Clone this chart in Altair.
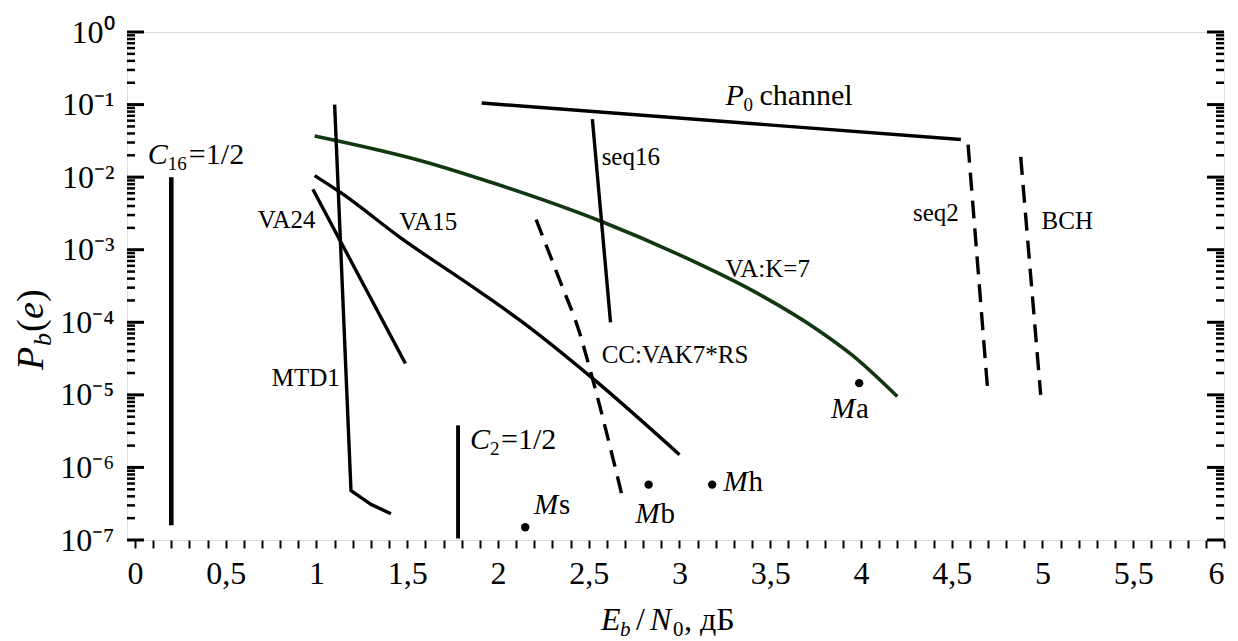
import altair as alt
import pandas as pd

W, H = 1097, 508
X_DOMAIN = [-0.044, 6.0]
Y_DOMAIN = [1e-7, 1.0]
FONT = "Liberation Serif"

# ---------------- data ----------------
mtd1_x = [1.10, 1.19, 1.30, 1.41]
mtd1_y = [1.0e-1, 4.8e-7, 3.1e-7, 2.3e-7]

va24_x = [0.98, 1.49]
va24_y = [6.8e-3, 2.7e-5]

va15_x = [0.99, 1.13, 1.46, 1.90, 2.12, 2.52, 3.00]
va15_y = [1.05e-2, 6.2e-3, 1.48e-3, 2.63e-4, 1.07e-4, 1.7e-5, 1.5e-6]

p0_x = [1.91, 4.55]
p0_y = [1.05e-1, 3.3e-2]

seq16_x = [2.52, 2.62]
seq16_y = [6.3e-2, 1.0e-4]

vak7_x = [0.99, 1.57, 2.00, 2.57, 3.00, 3.40, 3.76, 3.95, 4.20]
vak7_y = [3.7e-2, 1.7e-2, 7.9e-3, 2.45e-3, 8.5e-4, 2.75e-4, 7.9e-5, 3.55e-5, 9.5e-6]

cc_x = [2.21, 2.34, 2.45, 2.52, 2.69]
cc_y = [2.6e-3, 3.8e-4, 7.1e-5, 1.7e-5, 3.5e-7]

seq2_x = [4.59, 4.70]
seq2_y = [2.8e-2, 1.0e-5]

bch_x = [4.88, 4.99]
bch_y = [1.9e-2, 1.0e-5]

c16_x = [0.20, 0.20]
c16_y = [1.0e-2, 1.6e-7]

c2_x = [1.78, 1.78]
c2_y = [3.8e-6, 1.05e-7]

pt_name = ["Ms", "Mb", "Mh", "Ma"]
pt_x = [2.15, 2.83, 3.18, 3.99]
pt_y = [1.5e-7, 5.8e-7, 5.8e-7, 1.45e-5]

# curve labels
lbl_text = ["VA24", "VA15", "MTD1", "seq16", "seq2", "BCH", "VA:K=7", "CC:VAK7*RS"]
lbl_x = [0.676, 1.456, 0.753, 2.571, 4.286, 4.995, 3.253, 2.571]
lbl_y = [2.6e-3, 2.4e-3, 1.7e-5, 1.9e-2, 3.2e-3, 2.5e-3, 5.5e-4, 3.5e-5]

# point labels (italic M + suffix)
m_suffix = ["s", "b", "h", "a"]
m_lx = [2.198, 2.758, 3.242, 3.835]
m_ly = [3.05e-7, 2.3e-7, 6.3e-7, 6.4e-6]

# composite labels anchors
c16_lab = (0.071, 2.0e-2)
c2_lab = (1.846, 2.35e-6)
p0_lab = (3.253, 1.3e-1)

# axis ticks
y_major = [1e-7, 1e-6, 1e-5, 1e-4, 1e-3, 1e-2, 1e-1, 1e0]
y_minor = [m * 10.0 ** e for e in range(-7, 0) for m in range(2, 10)]
x_ticks = [round(i * 0.1, 1) for i in range(61)]

SUP = "['⁰','⁻¹','⁻²','⁻³','⁻⁴','⁻⁵','⁻⁶','⁻⁷']"

x_axis = alt.Axis(values=x_ticks, tickSize=8, tickWidth=2, tickColor="black",
                  labelExpr="(abs(datum.value*2 - round(datum.value*2)) < 1e-6) ? replace(format(datum.value, '~g'), '.', ',') : ''",
                  labelFontSize=32, labelPadding=10, labelColor="black", labelFont=FONT,
                  domain=False, grid=False, labelOverlap=False, title=None)
y_axis = alt.Axis(values=y_major, ticks=False, tickSize=0,
                  labelExpr="'10' + " + SUP + "[round(-log(datum.value)/LN10)]",
                  labelFontSize=32, labelPadding=13, labelColor="black", labelFont=FONT,
                  domain=False, grid=False, labelOverlap=False, title=None)

xsc = alt.Scale(domain=X_DOMAIN, nice=False, zero=False)
ysc = alt.Scale(type="log", domain=Y_DOMAIN, nice=False)


def X(f="x"):
    return alt.X(f"{f}:Q", scale=xsc, axis=x_axis)


def Y(f="y"):
    return alt.Y(f"{f}:Q", scale=ysc, axis=y_axis)


def df_line(xs, ys):
    return pd.DataFrame({"x": xs, "y": ys, "o": list(range(len(xs)))})


def line(xs, ys, color="black", width=3.4, dash=None, smooth=False):
    kw = dict(color=color, strokeWidth=width, strokeCap="butt", strokeJoin="round")
    if dash:
        kw["strokeDash"] = dash
    if smooth:
        kw["interpolate"] = "monotone"
    return alt.Chart(df_line(xs, ys)).mark_line(**kw).encode(x=X(), y=Y(), order="o:Q")


def text_at(x, y, txt, size, dx=0, dy=0, italic=False):
    return alt.Chart(pd.DataFrame({"x": [x], "y": [y], "t": [txt]})).mark_text(
        align="left", baseline="middle", dx=dx, dy=dy, fontSize=size, font=FONT,
        fontStyle="italic" if italic else "normal", color="black"
    ).encode(x=X(), y=Y(), text="t:N")


def text_px(px, py, txt, size, dx=0, dy=0, italic=False, angle=0):
    return alt.Chart(pd.DataFrame({"t": [txt]})).mark_text(
        align="left", baseline="alphabetic", dx=dx, dy=dy, fontSize=size, font=FONT,
        fontStyle="italic" if italic else "normal", color="black", angle=angle
    ).encode(x=alt.value(px), y=alt.value(py), text="t:N")


layers = []

# inward y ticks (left and right)
maj = pd.DataFrame({"v": y_major})
mnr = pd.DataFrame({"v": y_minor})
layers.append(alt.Chart(maj).mark_rule(color="black", strokeWidth=3).encode(
    y=Y("v"), x=alt.value(0), x2=alt.value(17)))
layers.append(alt.Chart(mnr).mark_rule(color="black", strokeWidth=2.5).encode(
    y=Y("v"), x=alt.value(0), x2=alt.value(8)))
layers.append(alt.Chart(maj).mark_rule(color="black", strokeWidth=3).encode(
    y=Y("v"), x=alt.value(W - 17), x2=alt.value(W)))
layers.append(alt.Chart(mnr).mark_rule(color="black", strokeWidth=2.5).encode(
    y=Y("v"), x=alt.value(W - 8), x2=alt.value(W)))

# curves
layers.append(line(vak7_x, vak7_y, color="#123812", width=3.6, smooth=True))
layers.append(line(mtd1_x, mtd1_y))
layers.append(line(va24_x, va24_y))
layers.append(line(va15_x, va15_y, smooth=True))
layers.append(line(p0_x, p0_y))
layers.append(line(seq16_x, seq16_y))
layers.append(line(cc_x, cc_y, dash=[17, 10], smooth=True))
layers.append(line(seq2_x, seq2_y, dash=[18, 10]))
layers.append(line(bch_x, bch_y, dash=[18, 10]))
layers.append(line(c16_x, c16_y, width=4.6))
layers.append(line(c2_x, c2_y, width=3.9))

# points
layers.append(alt.Chart(pd.DataFrame({"x": pt_x, "y": pt_y, "n": pt_name})).mark_circle(
    size=70, color="black", opacity=1).encode(x=X(), y=Y()))

# curve labels
layers.append(alt.Chart(pd.DataFrame({"x": lbl_x, "y": lbl_y, "t": lbl_text})).mark_text(
    align="left", baseline="middle", fontSize=25, font=FONT, color="black"
).encode(x=X(), y=Y(), text="t:N"))

# M labels
layers.append(alt.Chart(pd.DataFrame({"x": m_lx, "y": m_ly, "t": ["M"] * 4})).mark_text(
    align="left", baseline="middle", fontSize=29, font=FONT, fontStyle="italic", color="black"
).encode(x=X(), y=Y(), text="t:N"))
layers.append(alt.Chart(pd.DataFrame({"x": m_lx, "y": m_ly, "t": m_suffix})).mark_text(
    align="left", baseline="middle", fontSize=29, font=FONT, color="black", dx=25
).encode(x=X(), y=Y(), text="t:N"))

# C16 = 1/2
layers.append(text_at(*c16_lab, "C", 30, italic=True))
layers.append(text_at(*c16_lab, "16", 19, dx=20, dy=9))
layers.append(text_at(*c16_lab, "=1/2", 30, dx=41))
# C2 = 1/2
layers.append(text_at(*c2_lab, "C", 30, italic=True))
layers.append(text_at(*c2_lab, "2", 19, dx=20, dy=9))
layers.append(text_at(*c2_lab, "=1/2", 30, dx=31))
# P0 channel
layers.append(text_at(*p0_lab, "P", 30, italic=True))
layers.append(text_at(*p0_lab, "0", 19, dx=18, dy=9))
layers.append(text_at(*p0_lab, "channel", 30, dx=34))

# x axis title: E_b / N_0, дБ
tx, ty = 474, 598
layers.append(text_px(tx, ty, "E", 32, italic=True))
layers.append(text_px(tx, ty, "b", 21, dx=19, dy=6, italic=True))
layers.append(text_px(tx, ty, "/", 32, dx=35))
layers.append(text_px(tx, ty, "N", 32, dx=49, italic=True))
layers.append(text_px(tx, ty, "0", 21, dx=72, dy=6))
layers.append(text_px(tx, ty, ", дБ", 32, dx=83))

# y axis title: P_b(e)
yx, yy = -84, 338
layers.append(text_px(yx, yy, "P", 38, italic=True, angle=270))
layers.append(text_px(yx, yy, "b", 26, dx=24, dy=8, italic=True, angle=270))
layers.append(text_px(yx, yy, "(", 38, dx=38, angle=270))
layers.append(text_px(yx, yy, "e", 38, dx=51, italic=True, angle=270))
layers.append(text_px(yx, yy, ")", 38, dx=68, angle=270))

chart = alt.layer(*layers).properties(
    width=W, height=H,
    autosize=alt.AutoSizeParams(type="none"),
    padding={"left": 119, "top": 24, "right": 6, "bottom": 100},
).configure_view(stroke="black", strokeWidth=2.5).configure(font=FONT)

chart.save("out.html", embed_options={"renderer": "svg", "actions": False})
